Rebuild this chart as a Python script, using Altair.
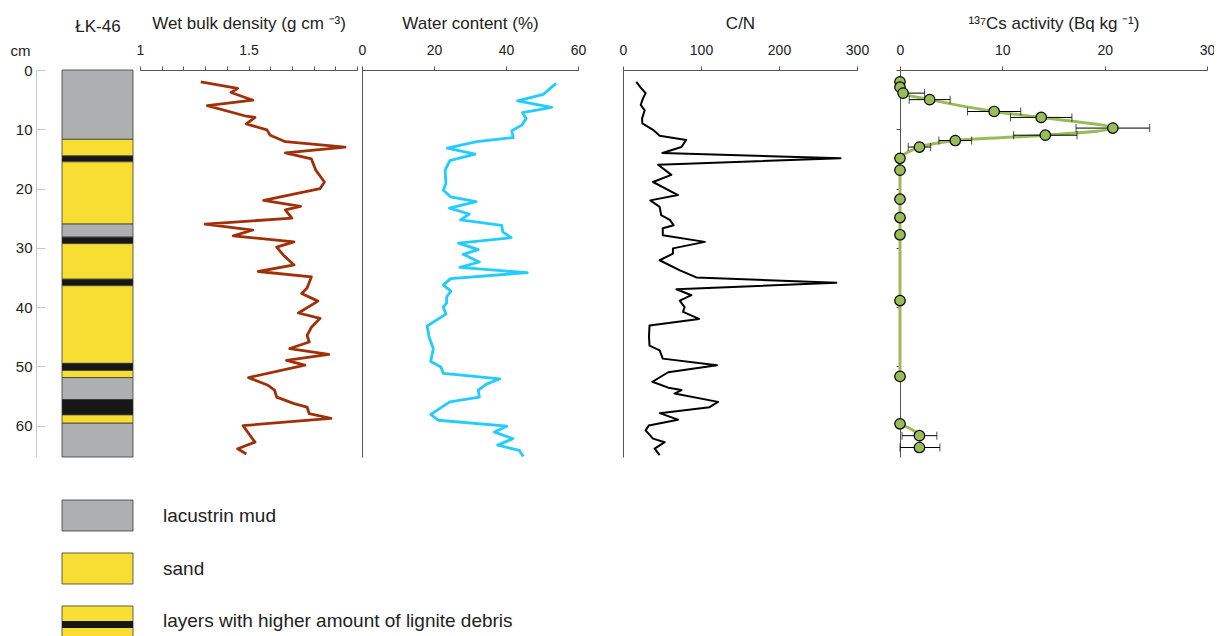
import altair as alt
import pandas as pd

FONT = "Liberation Sans"

# ---------------- data ----------------
lith_top = [0, 11.7, 14.5, 15.5, 26.0, 28.2, 29.3, 35.3, 36.4, 49.5, 50.7, 51.9, 55.6, 58.2, 59.6]
lith_bottom = [11.7, 14.5, 15.5, 26.0, 28.2, 29.3, 35.3, 36.4, 49.5, 50.7, 51.9, 55.6, 58.2, 59.6, 65.3]
lith_type = ["lacustrin mud", "sand", "lignite", "sand", "lacustrin mud", "lignite", "sand", "lignite",
             "sand", "lignite", "sand", "lacustrin mud", "lignite", "sand", "lacustrin mud"]

dens_depth = [2.0, 3.1, 3.8, 5.1, 6.0, 7.8, 8.0, 9.1, 10.1, 11.0, 12.1, 13.0, 14.0, 15.0, 16.9,
              18.9, 20.0, 22.0, 23.0, 23.6, 25.0, 26.0, 27.0, 28.0, 29.0, 29.9, 31.2, 32.9, 34.0, 34.9,
              36.8, 37.7, 39.0, 41.0, 41.9, 43.4, 44.8, 45.9, 47.0, 48.0, 49.0, 49.8, 51.9, 53.2, 54.0,
              55.2, 56.3, 56.9, 58.0, 58.8, 60.0, 61.3, 62.8, 63.9, 64.8]
dens_value = [1.28, 1.45, 1.42, 1.52, 1.31, 1.49, 1.53, 1.49, 1.585, 1.60, 1.67, 1.945, 1.67, 1.79, 1.81,
              1.85, 1.83, 1.57, 1.74, 1.67, 1.70, 1.30, 1.52, 1.43, 1.71, 1.63, 1.66, 1.71, 1.545, 1.79,
              1.77, 1.745, 1.82, 1.73, 1.83, 1.79, 1.77, 1.78, 1.69, 1.87, 1.675, 1.76, 1.50, 1.59, 1.62,
              1.63, 1.71, 1.77, 1.78, 1.88, 1.475, 1.50, 1.53, 1.45, 1.49]

water_depth = [2.25, 4.1, 5.2, 6.3, 7.2, 8.2, 9.3, 10.25, 11.4, 12.1, 13.2, 14.2, 15.3, 16.9, 19.1,
               20.3, 21.4, 22.2, 23.3, 24.3, 25.3, 26.2, 27.3, 28.3, 29.2, 30.3, 31.1, 32.4, 33.3, 34.2,
               35.2, 36.3, 37.3, 38.3, 39.3, 40.0, 41.2, 43.2, 45.0, 47.0, 49.2, 50.1, 51.2, 52.1, 53.0,
               54.0, 55.2, 56.0, 58.1, 59.1, 60.1, 61.1, 62.2, 63.3, 64.2, 65.2]
water_value = [53.9, 50.4, 43.2, 52.7, 44.6, 45.6, 44.4, 41.6, 42.0, 31.9, 23.7, 31.4, 24.4, 23.1, 23.3,
               22.6, 24.6, 31.7, 24.3, 29.8, 27.4, 38.8, 39.1, 41.4, 26.8, 32.3, 28.1, 32.6, 27.2, 45.9,
               24.6, 22.6, 24.7, 23.5, 23.5, 22.6, 23.3, 18.1, 18.6, 19.8, 19.1, 21.9, 22.6, 38.3, 34.6,
               32.3, 32.6, 24.4, 19.1, 21.2, 40.2, 36.8, 41.9, 37.7, 43.7, 44.8]

cn_depth = [2.0, 3.1, 3.9, 4.8, 5.9, 6.8, 8.2, 9.0, 10.1, 11.1, 11.8, 13.0, 14.0, 14.9, 16.0,
            17.7, 18.9, 21.1, 22.0, 23.1, 24.5, 25.3, 26.2, 26.7, 27.9, 29.0, 30.1, 31.0, 32.1, 33.8,
            35.0, 35.9, 37.0, 38.0, 38.9, 40.0, 40.8, 42.0, 43.1, 45.0, 46.5, 47.3, 48.7, 49.8, 51.0,
            52.6, 53.6, 54.0, 54.6, 56.0, 56.9, 57.9, 59.0, 60.0, 60.8, 62.2, 62.8, 63.9, 65.0]
cn_value = [17, 23.5, 29, 25.6, 22.7, 27.8, 24.4, 24.8, 38.5, 47, 81, 75, 50.5, 279, 45,
            62, 38.5, 70.5, 35, 47, 49, 60, 65, 51, 51, 105, 64, 64, 47, 73,
            94, 273.5, 68.5, 87.7, 72.7, 79, 77, 97.5, 34, 33.3, 34, 47, 51, 120.5, 58,
            37.7, 58, 75, 66, 121.8, 111, 47, 70.5, 33, 29, 38.5, 53.5, 40.6, 47]

cs_depth = [2.0, 2.9, 3.9, 5.0, 7.0, 8.0, 9.8, 11.0, 11.9, 13.0, 14.9, 16.9, 21.8, 24.9, 27.8,
            38.9, 51.7, 59.7, 61.7, 63.7]
cs_value = [0, 0, 0.3, 2.9, 9.2, 13.8, 20.8, 14.2, 5.4, 1.9, 0, 0, 0, 0, 0,
            0, 0, 0, 1.9, 1.9]
cs_error = [0, 0, 2.1, 2.0, 2.6, 3.0, 3.6, 3.1, 1.6, 1.1, 0, 0, 0, 0, 0,
            0, 0, 0, 1.7, 2.0]
cs_segment = ["a"] * 17 + ["b"] * 3

legend_labels = ["lacustrin mud", "sand", "layers with higher amount of lignite debris"]
legend_fill = ["lacustrin mud", "sand", "sand"]

depth_ticks = [0, 10, 20, 30, 40, 50, 60]
dens_ticks = [1.0, 1.1, 1.2, 1.3, 1.4, 1.5, 1.6, 1.7, 1.8, 1.9, 2.0]
water_ticks = [0, 20, 40, 60]
cn_ticks = [0, 100, 200, 300]
cs_ticks = [0, 10, 20, 30]

# ---------------- tables ----------------
lith_df = pd.DataFrame({"top": lith_top, "bottom": lith_bottom, "type": lith_type})
dens_df = pd.DataFrame({"depth": dens_depth, "v": dens_value})
water_df = pd.DataFrame({"depth": water_depth, "v": water_value})
cn_df = pd.DataFrame({"depth": cn_depth, "v": cn_value})
cs_df = pd.DataFrame({"depth": cs_depth, "v": cs_value, "err": cs_error, "seg": cs_segment})
cs_df["lo"] = (cs_df["v"] - cs_df["err"]).clip(lower=0)
cs_df["hi"] = cs_df["v"] + cs_df["err"]
err_df = cs_df[cs_df["err"] > 0]
caps_df = pd.concat([
    pd.DataFrame({"depth": err_df["depth"], "x": err_df["lo"]}),
    pd.DataFrame({"depth": err_df["depth"], "x": err_df["hi"]}),
])
leg_df = pd.DataFrame({"label": legend_labels, "type": legend_fill})
band_df = leg_df.iloc[[2]]

# ---------------- scales ----------------
W = 1176
H = 570
depth_scale = alt.Scale(domain=[0, 65.3], range=[0, 387], nice=False, zero=False)
lith_x = alt.Scale(domain=[0, 1], range=[26, 97])
dens_x = alt.Scale(domain=[1, 2], range=[104, 321], nice=False, zero=False)
water_x = alt.Scale(domain=[0, 60], range=[326, 542], nice=False)
cn_x = alt.Scale(domain=[0, 300], range=[587, 821], nice=False)
cs_x = alt.Scale(domain=[0, 30], range=[864, 1171], nice=False)
color_scale = alt.Scale(domain=["lacustrin mud", "sand", "lignite"],
                        range=["#AEAFB1", "#F8DE33", "#161716"])
leg_y = alt.Scale(type="band", domain=legend_labels, range=[430, 567], paddingInner=0.415, paddingOuter=0)


def top_axis(title, values, label_expr=None):
    kw = dict(orient="top", title=title, values=values, tickSize=4, labelPadding=9,
              domainColor="#555", tickColor="#555", labelFlush=False, labelOverlap=False,
              titleY=-42, titleBaseline="alphabetic", grid=False)
    if label_expr:
        kw["labelExpr"] = label_expr
    return alt.Axis(**kw)


def vline_axis(offset, ticks=False):
    kw = dict(orient="left", offset=offset, labels=False, ticks=ticks, domain=True,
              domainColor="#555", title=None, grid=False, values=depth_ticks)
    if ticks:
        kw.update(tickSize=4, tickColor="#555")
    return alt.Axis(**kw)


# ---------------- layers ----------------
lith = alt.Chart(lith_df).mark_rect(stroke="#3a3a3a", strokeWidth=0.8).encode(
    x=alt.XDatum(0, type="quantitative", scale=lith_x,
                 axis=alt.Axis(orient="top", title="ŁK-46", labels=False, ticks=False,
                               domain=False, grid=False, titleY=-39, titleBaseline="alphabetic")),
    x2=alt.X2Datum(1),
    y=alt.Y("top:Q", scale=depth_scale,
            axis=alt.Axis(orient="left", title="cm", values=depth_ticks, tickSize=0,
                          labelPadding=4, labelFontSize=15, domainColor="#c8c8c8",
                          titleAngle=0, titleX=-16, titleY=-15, titleAlign="center",
                          titleBaseline="alphabetic", titleFontSize=15, grid=False)),
    y2="bottom:Q",
    color=alt.Color("type:N", scale=color_scale, legend=None),
)

dens = alt.Chart(dens_df).mark_line(color="#A0300A", strokeWidth=2.8, strokeJoin="round").encode(
    x=alt.X("v:Q", scale=dens_x,
            axis=top_axis("Wet bulk density (g cm ⁻³)", dens_ticks,
                          "datum.value == 1 ? '1' : (abs(datum.value - 1.5) < 0.001 ? '1.5' : '')")),
    y=alt.Y("depth:Q", scale=depth_scale,
            axis=alt.Axis(orient="right", offset=-W, labels=False, domain=False, ticks=True,
                          tickSize=9, tickColor="#c8c8c8", values=depth_ticks, title=None, grid=False)),
    order="depth:Q",
)

water = alt.Chart(water_df).mark_line(color="#22CCFF", strokeWidth=2.8, strokeJoin="round").encode(
    x=alt.X("v:Q", scale=water_x, axis=top_axis("Water content (%)", water_ticks)),
    y=alt.Y("depth:Q", scale=depth_scale, axis=vline_axis(-326)),
    order="depth:Q",
)

cn = alt.Chart(cn_df).mark_line(color="#000000", strokeWidth=2, strokeJoin="round").encode(
    x=alt.X("v:Q", scale=cn_x, axis=top_axis("C/N", cn_ticks)),
    y=alt.Y("depth:Q", scale=depth_scale, axis=vline_axis(-587)),
    order="depth:Q",
)

cs_line = alt.Chart(cs_df).mark_line(color="#9BBB59", strokeWidth=3, interpolate="catmull-rom").encode(
    x=alt.X("v:Q", scale=cs_x, axis=top_axis("¹³⁷Cs activity (Bq kg ⁻¹)", cs_ticks)),
    y=alt.Y("depth:Q", scale=depth_scale, axis=vline_axis(-864, ticks=True)),
    detail="seg:N",
    order="depth:Q",
)

cs_err = alt.Chart(err_df).mark_rule(color="#000000", strokeWidth=1).encode(
    x=alt.X("lo:Q", scale=cs_x, axis=None),
    x2="hi:Q",
    y=alt.Y("depth:Q", scale=depth_scale, axis=None),
)

cs_caps = alt.Chart(caps_df).mark_tick(color="#000000", orient="vertical", size=8, thickness=1).encode(
    x=alt.X("x:Q", scale=cs_x, axis=None),
    y=alt.Y("depth:Q", scale=depth_scale, axis=None),
)

cs_pts = alt.Chart(cs_df).mark_circle(size=110, color="#9BBB59", stroke="#000000",
                                       strokeWidth=1.2, opacity=1).encode(
    x=alt.X("v:Q", scale=cs_x, axis=None),
    y=alt.Y("depth:Q", scale=depth_scale, axis=None),
)

leg_rect = alt.Chart(leg_df).mark_rect(stroke="#3a3a3a", strokeWidth=0.8).encode(
    x=alt.XDatum(0, type="quantitative", scale=lith_x, axis=None),
    x2=alt.X2Datum(1),
    y=alt.Y("label:N", scale=leg_y, axis=None, sort=legend_labels),
    color=alt.Color("type:N", scale=color_scale, legend=None),
)

leg_band = alt.Chart(band_df).mark_rule(color="#161716", strokeWidth=7, strokeCap="butt", yOffset=3).encode(
    x=alt.XDatum(0, type="quantitative", scale=lith_x, axis=None),
    x2=alt.X2Datum(1),
    y=alt.Y("label:N", scale=leg_y, axis=None, sort=legend_labels, bandPosition=0.5),
)

leg_text = alt.Chart(leg_df).mark_text(align="left", baseline="middle", dx=30, fontSize=19,
                                        font=FONT, color="#222222").encode(
    x=alt.XDatum(1, type="quantitative", scale=lith_x, axis=None),
    y=alt.Y("label:N", scale=leg_y, axis=None, sort=legend_labels, bandPosition=0.5),
    text="label:N",
)

chart = alt.layer(
    lith, dens, water, cn, cs_line, cs_err, cs_caps, cs_pts, leg_rect, leg_band, leg_text
).resolve_scale(
    x="independent", y="independent"
).resolve_axis(
    x="independent", y="independent"
).properties(
    width=W, height=H,
    autosize=alt.AutoSizeParams(type="none"),
    padding={"left": 28, "top": 62, "right": 2, "bottom": 0},
).configure(
    font=FONT
).configure_view(
    stroke=None
).configure_axis(
    labelFont=FONT, titleFont=FONT, labelFontSize=14, titleFontSize=17,
    titleFontWeight="normal", labelColor="#222222", titleColor="#222222", grid=False
)

chart.save("out.html", embed_options={"renderer": "svg", "actions": False})
